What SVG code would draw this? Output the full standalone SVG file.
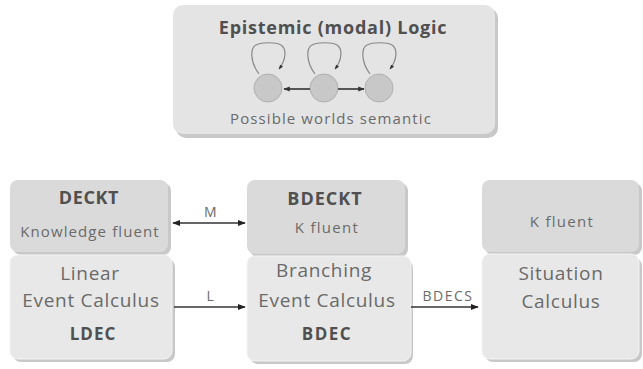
<svg xmlns="http://www.w3.org/2000/svg" width="643" height="369" viewBox="0 0 643 369">
  <style>
    .t { font-family: "Open Sans", "DejaVu Sans", sans-serif; text-anchor: middle; fill: #6a6a6a; }
    .b { font-weight: bold; fill: #505050; }
    .big { font-size: 19px; letter-spacing: 0.7px; }
    .lbl { font-size: 14px; letter-spacing: 1.5px; }
    .head { fill: #dadada; }
    .body { fill: #e8e8e8; stroke: #f4f4f4; stroke-width: 1; }
    .shadow { fill: #c8c8c8; }
    .conn { stroke: #333; stroke-width: 1.6; fill: none; }
    .loop { stroke: #8a8a8a; stroke-width: 1.2; fill: none; }
    .world { fill: #c8c8c8; stroke: #b0b0b0; stroke-width: 1; }
  </style>
  <defs>
    <marker id="ah" viewBox="0 0 10 10" refX="9" refY="5" markerWidth="5" markerHeight="5" orient="auto-start-reverse">
      <path d="M0,1 L10,5 L0,9 z" fill="#222"/>
    </marker>
    <marker id="sh" viewBox="0 0 10 10" refX="9" refY="5" markerWidth="4" markerHeight="4" orient="auto-start-reverse">
      <path d="M0,1 L10,5 L0,9 z" fill="#333"/>
    </marker>
    <path id="selfloop" class="loop" d="M-9,-14 C-18,-26 -18,-40 -12,-43 C-6,-46 8,-46 13,-43 C19,-39 18,-28 11,-19" marker-end="url(#sh)"/>
  </defs>

  <rect width="643" height="369" fill="#ffffff"/>

  <!-- epistemic logic -->
  <g id="epistemic">
    <rect class="shadow" x="176" y="8" width="322" height="130" rx="10"/>
    <rect x="173" y="5" width="322" height="129" rx="10" fill="#e4e4e4"/>
    <text class="t b" x="333" y="34" font-size="18" letter-spacing="0.75">Epistemic (modal) Logic</text>
    <!-- worlds with reflexive loops -->
    <g>
      <use href="#selfloop" x="268" y="88"/>
      <use href="#selfloop" x="324" y="88"/>
      <use href="#selfloop" x="379" y="88"/>
      <circle class="world" cx="268" cy="88" r="14"/>
      <circle class="world" cx="324" cy="88" r="14"/>
      <circle class="world" cx="379" cy="88" r="14"/>
      <line class="conn" x1="310" y1="89" x2="284" y2="89" stroke-width="1" marker-end="url(#sh)"/>
      <line class="conn" x1="338" y1="89" x2="364" y2="89" stroke-width="1" marker-end="url(#sh)"/>
    </g>
    <text class="t" x="331" y="124" font-size="15" letter-spacing="1.1">Possible worlds semantic</text>
  </g>

  <!-- linear column -->
  <g id="deckt">
    <rect class="shadow" x="13" y="183" width="158" height="72" rx="8"/>
    <rect class="head" x="10" y="180" width="158" height="72" rx="8"/>
    <text class="t b" x="89" y="204" font-size="18" letter-spacing="0.6">DECKT</text>
    <text class="t" x="90" y="237" font-size="15" letter-spacing="1.1">Knowledge fluent</text>
  </g>
  <g id="ldec">
    <rect class="shadow" x="13" y="259" width="162" height="103" rx="8"/>
    <rect class="body" x="10" y="255" width="162" height="104" rx="8"/>
    <text class="t big" x="90" y="280">Linear</text>
    <text class="t big" x="91" y="307">Event Calculus</text>
    <text class="t b" x="93" y="340" font-size="17" letter-spacing="1">LDEC</text>
  </g>

  <!-- branching column -->
  <g id="bdeckt">
    <rect class="shadow" x="250" y="183" width="158" height="74" rx="8"/>
    <rect class="head" x="247" y="180" width="158" height="74" rx="8"/>
    <text class="t b" x="325" y="205" font-size="18" letter-spacing="1">BDECKT</text>
    <text class="t" x="327" y="233" font-size="15" letter-spacing="1.3">K fluent</text>
  </g>
  <g id="bdec">
    <rect class="shadow" x="250" y="260" width="163" height="104" rx="8"/>
    <rect class="body" x="247" y="256" width="164" height="105" rx="8"/>
    <text class="t big" x="324" y="277">Branching</text>
    <text class="t big" x="327" y="307">Event Calculus</text>
    <text class="t b" x="327" y="340" font-size="17" letter-spacing="1.5">BDEC</text>
  </g>

  <!-- situation calculus column -->
  <g id="kfluent">
    <rect class="shadow" x="485" y="183" width="157" height="72" rx="8"/>
    <rect class="head" x="482" y="180" width="157" height="72" rx="8"/>
    <text class="t" x="562" y="227" font-size="15" letter-spacing="1.3">K fluent</text>
  </g>
  <g id="situation">
    <rect class="shadow" x="485" y="258" width="157" height="104" rx="8"/>
    <rect class="body" x="482" y="254" width="157" height="105" rx="8"/>
    <text class="t big" x="561" y="280">Situation</text>
    <text class="t big" x="561" y="308">Calculus</text>
  </g>

  <!-- connectors -->
  <g id="connectors">
    <line class="conn" x1="173" y1="223" x2="245" y2="223" marker-start="url(#ah)" marker-end="url(#ah)"/>
    <text class="t lbl" x="211" y="217">M</text>
    <line class="conn" x1="174" y1="307" x2="245" y2="307" stroke-width="2.2" marker-end="url(#ah)"/>
    <text class="t lbl" x="211" y="301">L</text>
    <line class="conn" x1="411" y1="307" x2="478" y2="307" stroke-width="2" marker-end="url(#ah)"/>
    <text class="t lbl" x="448" y="301">BDECS</text>
  </g>
</svg>
